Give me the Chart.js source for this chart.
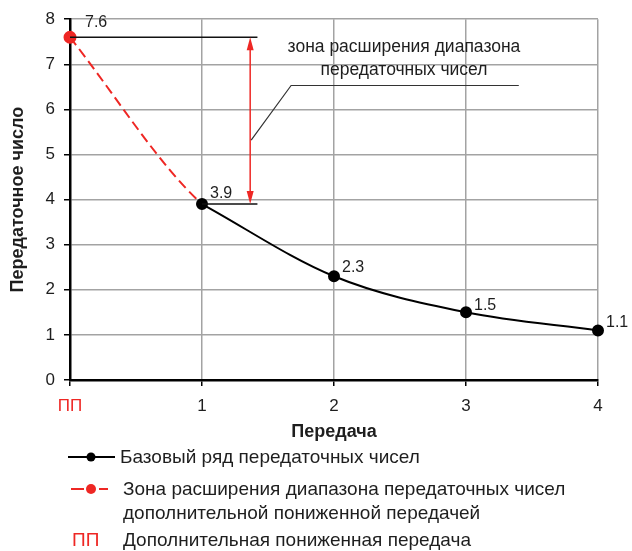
<!DOCTYPE html>
<html>
<head>
<meta charset="utf-8">
<script src="https://cdn.jsdelivr.net/npm/chart.js@4/dist/chart.umd.min.js"></script>
<style>
html,body{margin:0;padding:0;background:#fff;}
#wrap{width:632px;height:551px;position:relative;}
</style>
</head>
<body>
<div id="wrap"><canvas id="c" width="632" height="551"></canvas></div>
<script>
// ---- data ----
const gearLabels = ['ПП', '1', '2', '3', '4'];
const gearPositions = [0, 1, 2, 3, 4];
const baseRatios = [3.9, 2.3, 1.5, 1.1];          // gears 1..4
const extensionRatios = [7.6, 3.9, 2.3];          // ПП -> 1 (shape continues into 2)
const yTicks = [0, 1, 2, 3, 4, 5, 6, 7, 8];
const zoneTop = 7.6;
const zoneBottom = 3.9;
const zoneText = ['зона расширения диапазона', 'передаточных чисел'];
const legendBase = 'Базовый ряд передаточных чисел';
const legendZone = ['Зона расширения диапазона передаточных чисел', 'дополнительной пониженной передачей'];
const legendPP = ['ПП', 'Дополнительная пониженная передача'];
const xTitle = 'Передача';
const yTitle = 'Передаточное число';

const FONT = '"Liberation Sans", Arial, sans-serif';
const RED = '#ee2724';
const TXT = '#1e1e1e';

const basePts = baseRatios.map((v, i) => ({x: gearPositions[i + 1], y: v}));
const extPts = extensionRatios.map((v, i) => ({x: gearPositions[i], y: v}));

const labelPlugin = {
  id: 'labels',
  afterDatasetsDraw(chart) {
    const ctx = chart.ctx;
    ctx.save();
    ctx.font = '16px ' + FONT;
    ctx.fillStyle = TXT;
    ctx.textAlign = 'left';
    ctx.textBaseline = 'alphabetic';
    const ext = chart.getDatasetMeta(0).data[0];
    ctx.fillText(extensionRatios[0].toFixed(1), ext.x + 15, ext.y - 10);
    const meta = chart.getDatasetMeta(1);
    const dy = [6, 4, 2, 3];
    meta.data.forEach((p, i) => {
      ctx.fillText(baseRatios[i].toFixed(1), p.x + 8, p.y - dy[i]);
    });
    ctx.restore();
  }
};

const annotPlugin = {
  id: 'annot',
  afterDatasetsDraw(chart) {
    const ctx = chart.ctx;
    const xs = chart.scales.x, ys = chart.scales.y;
    const X = v => xs.getPixelForValue(v), Y = v => ys.getPixelForValue(v);
    ctx.save();
    // horizontal extension lines
    ctx.strokeStyle = '#111';
    ctx.lineWidth = 1.5;
    ctx.beginPath();
    ctx.moveTo(X(0), Y(zoneTop)); ctx.lineTo(X(1.42), Y(zoneTop));
    ctx.moveTo(X(1), Y(zoneBottom)); ctx.lineTo(X(1.42), Y(zoneBottom));
    ctx.stroke();
    // red double arrow
    const ax = X(1.365), ya = Y(zoneTop), yb = Y(zoneBottom);
    ctx.strokeStyle = RED; ctx.fillStyle = RED; ctx.lineWidth = 1.5;
    ctx.beginPath(); ctx.moveTo(ax, ya + 10); ctx.lineTo(ax, yb - 10); ctx.stroke();
    ctx.beginPath(); ctx.moveTo(ax, ya); ctx.lineTo(ax - 3.5, ya + 13); ctx.lineTo(ax + 3.5, ya + 13); ctx.closePath(); ctx.fill();
    ctx.beginPath(); ctx.moveTo(ax, yb); ctx.lineTo(ax - 3.5, yb - 13); ctx.lineTo(ax + 3.5, yb - 13); ctx.closePath(); ctx.fill();
    // leader line
    ctx.strokeStyle = '#333'; ctx.lineWidth = 1.2;
    ctx.beginPath();
    ctx.moveTo(ax + 1, Y(5.32));
    ctx.lineTo(X(1.675), Y(6.53));
    ctx.lineTo(X(3.4), Y(6.53));
    ctx.stroke();
    // text
    ctx.fillStyle = TXT;
    ctx.font = '17.5px ' + FONT;
    ctx.textAlign = 'center';
    ctx.textBaseline = 'middle';
    const cx = X(2.53);
    ctx.fillText(zoneText[0], cx, Y(7.37));
    ctx.fillText(zoneText[1], cx, Y(6.86));
    ctx.restore();
  }
};

const legendPlugin = {
  id: 'customLegend',
  afterDraw(chart) {
    const ctx = chart.ctx;
    ctx.save();
    ctx.font = '19px ' + FONT;
    ctx.textBaseline = 'middle';
    ctx.textAlign = 'left';
    // base series
    let y = 457;
    ctx.strokeStyle = '#000'; ctx.lineWidth = 2;
    ctx.beginPath(); ctx.moveTo(68, y); ctx.lineTo(115, y); ctx.stroke();
    ctx.fillStyle = '#000';
    ctx.beginPath(); ctx.arc(91, y, 4.5, 0, Math.PI * 2); ctx.fill();
    ctx.fillStyle = TXT;
    ctx.fillText(legendBase, 120, y + 1);
    // extension series
    y = 489;
    ctx.strokeStyle = RED; ctx.lineWidth = 2;
    ctx.beginPath(); ctx.moveTo(71, y); ctx.lineTo(84, y); ctx.moveTo(99, y); ctx.lineTo(108, y); ctx.stroke();
    ctx.fillStyle = RED;
    ctx.beginPath(); ctx.arc(91, y, 5, 0, Math.PI * 2); ctx.fill();
    ctx.fillStyle = TXT;
    ctx.fillText(legendZone[0], 123, y + 1);
    ctx.fillText(legendZone[1], 123, 514);
    // ПП
    y = 541;
    ctx.fillStyle = RED;
    ctx.fillText(legendPP[0], 72, y);
    ctx.fillStyle = TXT;
    ctx.fillText(legendPP[1], 123, y);
    ctx.restore();
  }
};

new Chart(document.getElementById('c'), {
  type: 'line',
  data: {
    datasets: [
      {
        label: 'Зона расширения',
        data: extPts,
        order: 2,
        clip: false,
        borderColor: RED,
        borderWidth: 2,
        borderDash: [10, 5],
        cubicInterpolationMode: 'monotone',
        pointRadius: ctx => ctx.dataIndex === 0 ? 5.5 : 0,
        pointBackgroundColor: RED,
        pointBorderColor: RED,
        segment: {
          borderColor: c => c.p0DataIndex >= 1 ? 'rgba(0,0,0,0)' : RED
        }
      },
      {
        label: 'Базовый ряд',
        data: basePts,
        order: 1,
        clip: false,
        borderColor: '#000',
        borderWidth: 2,
        cubicInterpolationMode: 'monotone',
        pointRadius: 5,
        pointBackgroundColor: '#000',
        pointBorderColor: '#000'
      }
    ]
  },
  options: {
    responsive: false,
    animation: false,
    events: [],
    layout: {padding: {left: 0, top: 19, right: 34, bottom: 101}},
    plugins: {legend: {display: false}, tooltip: {enabled: false}},
    scales: {
      x: {
        type: 'linear',
        min: 0, max: 4,
        afterFit: s => { s.height = 70; },
        afterBuildTicks: s => { s.ticks = gearPositions.map(v => ({value: v})); },
        ticks: {
          callback: (v) => gearLabels[gearPositions.indexOf(v)],
          color: c => c.index === 0 ? RED : TXT,
          font: {family: FONT, size: 17},
          padding: 10,
          maxRotation: 0
        },
        grid: {
          color: c => c.index === 0 ? 'rgba(0,0,0,0)' : '#a3a3a3',
          lineWidth: 1.5,
          tickColor: '#000',
          tickLength: 6,
          tickWidth: 1.5
        },
        border: {color: '#000', width: 2.5},
        title: {
          display: true, text: xTitle, color: TXT,
          font: {family: FONT, size: 18, weight: 'bold'},
          padding: {top: 0, bottom: 7}
        }
      },
      y: {
        type: 'linear',
        min: 0, max: 8,
        afterFit: s => { s.width = 70; },
        afterBuildTicks: s => { s.ticks = yTicks.map(v => ({value: v})); },
        ticks: {
          color: TXT,
          font: {family: FONT, size: 17},
          padding: 9
        },
        grid: {
          color: c => c.index === 0 ? 'rgba(0,0,0,0)' : '#a3a3a3',
          lineWidth: 1.5,
          tickColor: '#000',
          tickLength: 6,
          tickWidth: 1.5
        },
        border: {color: '#000', width: 2.5},
        title: {
          display: true, text: yTitle, color: TXT,
          font: {family: FONT, size: 18, weight: 'bold'},
          padding: {top: 7, bottom: 0}
        }
      }
    }
  },
  plugins: [annotPlugin, labelPlugin, legendPlugin]
});
</script>
</body>
</html>
